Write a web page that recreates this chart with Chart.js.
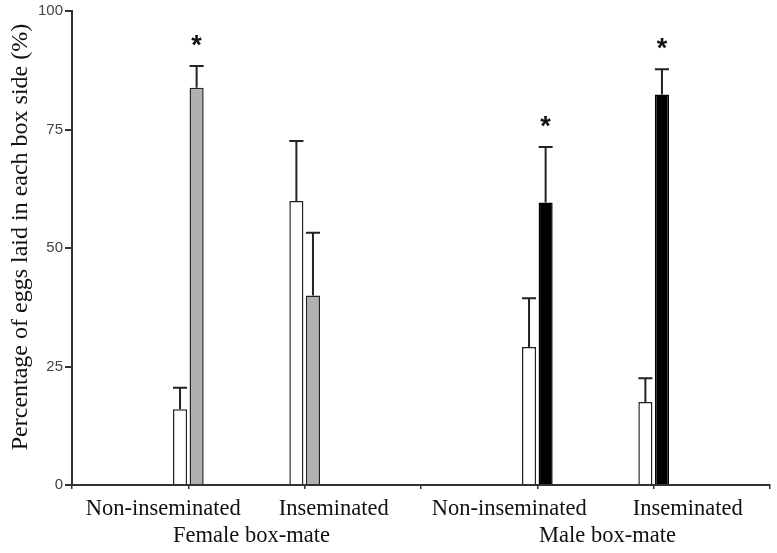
<!DOCTYPE html>
<html>
<head>
<meta charset="utf-8">
<script src="https://cdn.jsdelivr.net/npm/chart.js@4.4.1/dist/chart.umd.min.js"></script>
<style>
  html, body { margin: 0; padding: 0; background: #fff; }
</style>
</head>
<body>
<canvas id="chart" width="777" height="553"></canvas>
<script>
// categorias do eixo x (posições vazias nas pontas e no meio)
const categories = ["", "Non-inseminated", "Inseminated", "", "Non-inseminated", "Inseminated", ""];
const groupNames = ["Female box-mate", "Male box-mate"];
const yTicks = [0, 25, 50, 75, 100];
const yTitle = "Percentage of eggs laid in each box side (%)";

// lado oposto ao box-mate (barras brancas)
const otherSide = [null, 16.0, 59.9, null, 29.1, 17.5, null];
const otherSideErr = [null, 4.5, 12.7, null, 10.3, 5.0, null];

// lado da fêmea (cinza)
const femaleSide = [null, 83.8, 40.0, null, null, null, null];
const femaleSideErr = [null, 4.6, 13.2, null, null, null, null];
const femaleSig = [false, true, false, false, false, false, false];

// lado do macho (preto)
const maleSide = [null, null, null, null, 59.6, 82.4, null];
const maleSideErr = [null, null, null, null, 11.7, 5.3, null];
const maleSig = [false, false, false, false, true, true, false];

const SERIF = "'Liberation Serif', 'Times New Roman', serif";
const SANS = "'Liberation Sans', Arial, sans-serif";

// deslocamento dos rótulos em relação ao tick (como no original)
const labelShift = [0, -25, 29, 0, -28, 34, 0];
const groupShift = [5, 12];

// =============================
// Barras de erro, asteriscos e textos
// =============================
const extras = {
  id: "extras",
  afterDatasetsDraw(chart) {
    const ctx = chart.ctx;
    const yScale = chart.scales.y;
    chart.data.datasets.forEach((ds, di) => {
      const meta = chart.getDatasetMeta(di);
      meta.data.forEach((bar, i) => {
        const v = ds.data[i];
        if (v == null) return;
        const top = yScale.getPixelForValue(v + ds.err[i]);
        const half = bar.width / 2;
        ctx.save();
        ctx.strokeStyle = "#222";
        ctx.lineWidth = 2;
        ctx.beginPath();
        ctx.moveTo(bar.x, bar.y);
        ctx.lineTo(bar.x, top);
        ctx.moveTo(bar.x - half, top);
        ctx.lineTo(bar.x + half, top);
        ctx.stroke();
        if (ds.sig && ds.sig[i]) {
          ctx.fillStyle = "#111";
          ctx.font = "bold 27px " + SANS;
          ctx.textAlign = "center";
          ctx.textBaseline = "alphabetic";
          ctx.fillText("*", bar.x, top - 12);
        }
        ctx.restore();
      });
    });
  },
  afterDraw(chart) {
    const ctx = chart.ctx;
    const xScale = chart.scales.x;
    ctx.save();
    ctx.fillStyle = "#111";
    ctx.font = "22.5px " + SERIF;
    ctx.textAlign = "center";
    ctx.textBaseline = "alphabetic";
    categories.forEach((c, i) => {
      if (!c) return;
      ctx.fillText(c, xScale.getPixelForValue(i) + labelShift[i], xScale.top + 30);
    });
    groupNames.forEach((g, k) => {
      const a = xScale.getPixelForValue(1 + k * 3);
      const b = xScale.getPixelForValue(2 + k * 3);
      ctx.fillText(g, (a + b) / 2 + groupShift[k], xScale.top + 57);
    });
    // título do eixo y
    ctx.translate(21, 237);
    ctx.rotate(-Math.PI / 2);
    ctx.font = "24px " + SERIF;
    ctx.textBaseline = "middle";
    ctx.fillText(yTitle, 0, 0);
    ctx.restore();
  }
};

const ctx = document.getElementById("chart").getContext("2d");

new Chart(ctx, {
  type: "bar",
  data: {
    labels: categories,
    datasets: [
      {
        label: "Other side",
        data: otherSide,
        err: otherSideErr,
        backgroundColor: "#ffffff",
        borderColor: "#222",
        borderWidth: 1.5
      },
      {
        label: "Female side",
        data: femaleSide,
        err: femaleSideErr,
        sig: femaleSig,
        backgroundColor: "#b0b0b0",
        borderColor: "#222",
        borderWidth: 1.5
      },
      {
        label: "Male side",
        data: maleSide,
        err: maleSideErr,
        sig: maleSig,
        backgroundColor: "#000000",
        borderColor: "#000",
        borderWidth: 1.5
      }
    ]
  },
  options: {
    responsive: false,
    animation: false,
    devicePixelRatio: 1,
    skipNull: true,
    categoryPercentage: 0.285,
    barPercentage: 0.85,
    layout: { padding: { top: 10, right: 7, left: 0, bottom: 0 } },
    plugins: {
      legend: { display: false },
      tooltip: { enabled: false }
    },
    scales: {
      x: {
        type: "category",
        offset: false,
        grid: { display: true, offset: false, drawOnChartArea: false, drawTicks: true, tickLength: 4, color: "#333", lineWidth: 1.5 },
        border: { color: "#333", width: 2 },
        ticks: { display: false },
        afterFit: scale => { scale.height = 68; }
      },
      y: {
        min: 0,
        max: 100,
        afterBuildTicks: scale => { scale.ticks = yTicks.map(v => ({ value: v })); },
        ticks: {
          font: { family: SANS, size: 15 },
          color: "#444",
          padding: 2
        },
        grid: { display: true, drawOnChartArea: false, tickLength: 7, color: "#333", lineWidth: 2 },
        border: { color: "#333", width: 2 },
        afterFit: scale => { scale.width = 72; }
      }
    }
  },
  plugins: [extras]
});
</script>
</body>
</html>
